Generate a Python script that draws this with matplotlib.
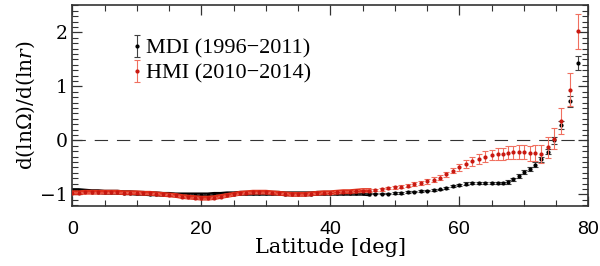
import matplotlib
matplotlib.use('Agg')
import matplotlib.pyplot as plt
from matplotlib.ticker import MultipleLocator
import numpy as np

lat = [0, 1, 2, 3, 4, 5, 6, 7, 8, 9, 10, 11, 12, 13, 14, 15, 16, 17, 18, 19,
       20, 21, 22, 23, 24, 25, 26, 27, 28, 29, 30, 31, 32, 33, 34, 35, 36, 37, 38, 39,
       40, 41, 42, 43, 44, 45, 46, 47, 48, 49, 50, 51, 52, 53, 54, 55, 56, 57, 58, 59,
       60, 61, 62, 63, 64, 65, 66, 66.8, 67.6, 68.4, 69.2, 70.0, 70.9, 71.7, 72.6,
       73.7, 74.7, 75.8, 77.1, 78.4]

mdi = [-0.93, -0.93, -0.94, -0.95, -0.95, -0.96, -0.96, -0.96, -0.97, -0.97,
       -0.98, -0.98, -0.99, -0.99, -1.00, -1.00, -1.01, -1.01, -1.01, -1.01,
       -1.01, -1.01, -1.00, -1.00, -0.99, -0.99, -0.98, -0.98, -0.98, -0.98,
       -0.98, -0.98, -0.98, -0.99, -0.99, -0.99, -0.99, -0.99, -0.98, -0.98,
       -0.98, -0.98, -0.98, -0.98, -0.98, -0.98, -0.99, -0.99, -0.99, -0.99,
       -0.98, -0.97, -0.96, -0.95, -0.94, -0.93, -0.92, -0.91, -0.88, -0.85,
       -0.82, -0.80, -0.79, -0.785, -0.79, -0.79, -0.79, -0.79, -0.77, -0.72,
       -0.655, -0.59, -0.525, -0.45, -0.35, -0.21, 0.0, 0.28, 0.72, 1.44]

mdi_err = [0.01] * 50 + [0.015] * 10 + [0.02] * 7 + \
          [0.025, 0.03, 0.03, 0.035, 0.04, 0.04, 0.045, 0.05, 0.05, 0.06, 0.07, 0.10, 0.13]

hmi = [-0.97, -0.97, -0.96, -0.96, -0.96, -0.96, -0.96, -0.96, -0.97, -0.97,
       -0.97, -0.98, -0.98, -0.99, -1.00, -1.01, -1.02, -1.04, -1.05, -1.06,
       -1.07, -1.07, -1.06, -1.04, -1.02, -1.00, -0.98, -0.97, -0.96, -0.96,
       -0.96, -0.97, -0.98, -0.99, -1.00, -1.00, -1.00, -0.99, -0.98, -0.97,
       -0.97, -0.96, -0.95, -0.95, -0.94, -0.93, -0.93, -0.92, -0.91, -0.89,
       -0.87, -0.86, -0.84, -0.81, -0.79, -0.76, -0.73, -0.69, -0.63, -0.56,
       -0.50, -0.44, -0.39, -0.34, -0.30, -0.27, -0.26, -0.25, -0.23, -0.22,
       -0.22, -0.22, -0.24, -0.24, -0.25, -0.13, 0.03, 0.36, 0.94, 2.02]

hmi_err = [0.01] * 40 + [0.015] * 5 + [0.02] * 5 + [0.03] * 5 + [0.045] * 5 + \
          [0.06, 0.07, 0.08, 0.09, 0.10, 0.10, 0.11,
           0.11, 0.12, 0.12, 0.13, 0.13, 0.14, 0.15, 0.17, 0.20, 0.19, 0.24, 0.30, 0.32]

red = '#e0301a'
red_light = '#f07060'

plt.rcParams['mathtext.fontset'] = 'dejavuserif'

fig = plt.figure(figsize=(6, 2.66), dpi=100)
ax = fig.add_axes([0.1205, 0.2267, 0.86, 0.7543])

lat_a = np.array(lat)
low = lat_a <= 46
ax.plot(lat_a[low], np.array(mdi)[low], '-', color='k', lw=3.5, zorder=2)
ax.plot(lat_a[low], np.array(hmi)[low], '-', color=red, lw=3.5, zorder=3)

e1 = ax.errorbar(lat, mdi, yerr=mdi_err, fmt='o', ms=2, color='k', ecolor='#404040',
                 elinewidth=0.8, capsize=2.5, capthick=0.8, zorder=2,
                 label='MDI (1996\u22122011)')
e2 = ax.errorbar(lat, hmi, yerr=hmi_err, fmt='o', ms=2, color='#c81810', ecolor=red_light,
                 elinewidth=0.8, capsize=2.5, capthick=0.8, zorder=3,
                 label='HMI (2010\u22122014)')

ax.axhline(0, color='#333333', lw=0.8, ls=(0, (12, 8)), zorder=1)

ax.set_xlim(0, 80)
ax.set_ylim(-1.21, 2.505)
ax.xaxis.set_major_locator(MultipleLocator(20))
ax.xaxis.set_minor_locator(MultipleLocator(5))
ax.yaxis.set_major_locator(MultipleLocator(1))
ax.yaxis.set_minor_locator(MultipleLocator(0.1))
ax.tick_params(which='both', direction='in', top=True, right=True, color='#333333')
ax.tick_params(which='major', length=7, width=0.9)
ax.tick_params(which='minor', length=4, width=0.8)
ax.tick_params(axis='x', which='major', pad=11)
for lab in ax.get_xticklabels():
    lab.set_fontfamily('Liberation Sans')
    lab.set_fontsize(14)
for lab in ax.get_yticklabels():
    lab.set_fontfamily('DejaVu Serif')
    lab.set_fontsize(13.5)
for s in ax.spines.values():
    s.set_linewidth(1.2)
    s.set_color('#333333')

ax.set_xlabel('Latitude [deg]', family='DejaVu Serif', fontsize=15, labelpad=0)
ax.set_ylabel('d(ln\u03a9)/d(ln$r$)', family='DejaVu Serif', fontsize=14.5, labelpad=2)

leg = ax.legend(handles=[e1, e2], loc='upper left', bbox_to_anchor=(0.1, 0.88),
                frameon=False, handlelength=0.4, handletextpad=0.2,
                labelspacing=0.2, borderaxespad=0,
                prop={'family': 'Liberation Serif', 'size': 16})

fig.savefig('out.png', dpi=100)
